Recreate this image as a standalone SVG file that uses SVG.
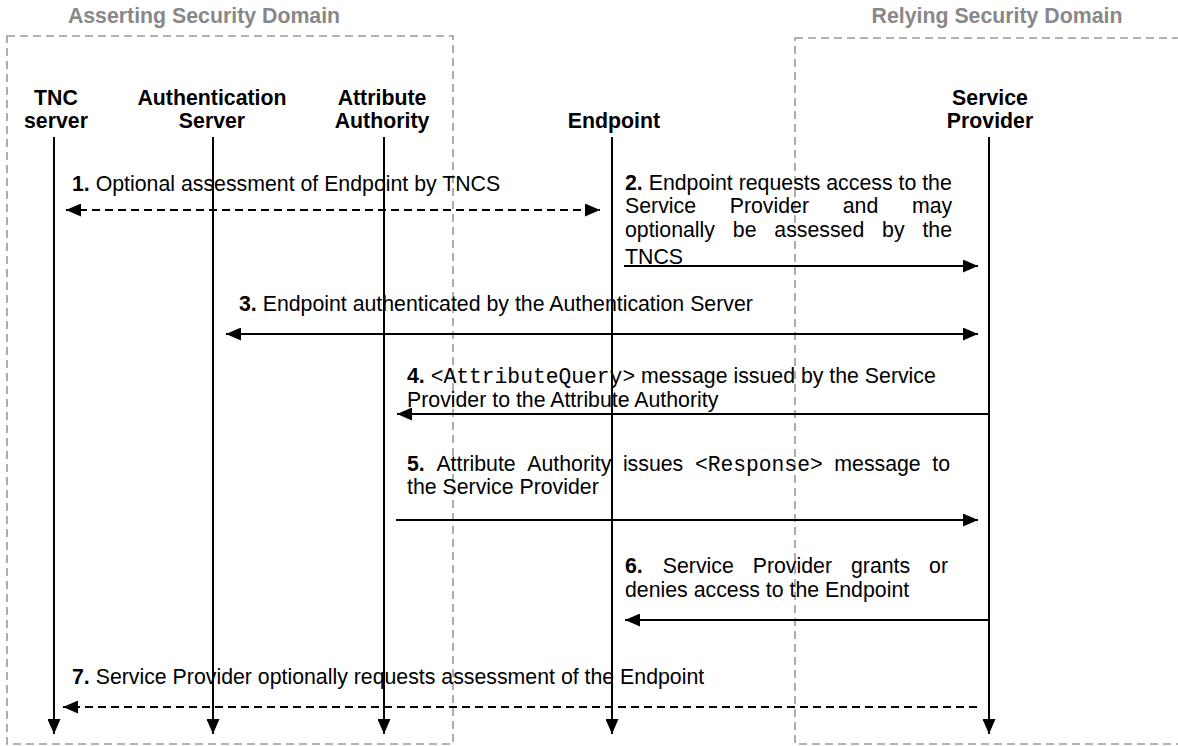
<svg xmlns="http://www.w3.org/2000/svg" width="1178" height="746" viewBox="0 0 1178 746">
<style>
  text { font-family: "Liberation Sans", Arial, sans-serif; font-size: 21.3px; fill: #000; }
  .title { font-weight: bold; fill: #888888; text-anchor: middle; }
  .node { font-weight: bold; text-anchor: middle; }
  .b { font-weight: bold; }
  .mono { font-family: "Liberation Mono", "Courier New", monospace; }
  .domain { fill: none; stroke: #999999; stroke-width: 1.6; stroke-dasharray: 8 5; }
  .life { stroke: #000; stroke-width: 2; fill: none; }
  .msg { stroke: #000; stroke-width: 2; fill: none; }
  .dash { stroke-dasharray: 8 5; }
</style>
<defs>
  <marker id="ah" viewBox="0 0 15 13" refX="15" refY="6.5" markerWidth="15" markerHeight="13" markerUnits="userSpaceOnUse" orient="auto-start-reverse">
    <path d="M0,0 L15,6.5 L0,13 z" fill="#000" stroke="none"/>
  </marker>
</defs>
<rect width="1178" height="746" fill="#fff"/>

<g id="asserting-domain">
  <text class="title" x="204" y="23">Asserting Security Domain</text>
  <rect class="domain" x="7" y="36" width="446" height="708"/>
</g>
<g id="relying-domain">
  <text class="title" x="997" y="23">Relying Security Domain</text>
  <rect class="domain" x="795" y="38" width="420" height="706"/>
</g>

<g id="tnc-server">
  <text class="node" x="56" y="105">TNC</text>
  <text class="node" x="56" y="128">server</text>
  <line class="life" x1="54" y1="137" x2="54" y2="734" marker-end="url(#ah)"/>
</g>
<g id="authentication-server">
  <text class="node" x="212" y="105">Authentication</text>
  <text class="node" x="212" y="128">Server</text>
  <line class="life" x1="213" y1="137" x2="213" y2="734" marker-end="url(#ah)"/>
</g>
<g id="attribute-authority">
  <text class="node" x="382" y="105">Attribute</text>
  <text class="node" x="382" y="128">Authority</text>
  <line class="life" x1="384" y1="137" x2="384" y2="734" marker-end="url(#ah)"/>
</g>
<g id="endpoint">
  <text class="node" x="614" y="128">Endpoint</text>
  <line class="life" x1="612" y1="137" x2="612" y2="734" marker-end="url(#ah)"/>
</g>
<g id="service-provider">
  <text class="node" x="990" y="105">Service</text>
  <text class="node" x="990" y="128">Provider</text>
  <line class="life" x1="989" y1="137" x2="989" y2="734" marker-end="url(#ah)"/>
</g>

<g id="connectors">
  <line class="msg dash" x1="66" y1="210" x2="600" y2="210" marker-start="url(#ah)" marker-end="url(#ah)"/>
  <line class="msg" x1="624" y1="266" x2="978" y2="266" marker-end="url(#ah)"/>
  <line class="msg" x1="226" y1="334" x2="978" y2="334" marker-start="url(#ah)" marker-end="url(#ah)"/>
  <line class="msg" x1="989" y1="414" x2="397" y2="414" marker-end="url(#ah)"/>
  <line class="msg" x1="396" y1="520" x2="978" y2="520" marker-end="url(#ah)"/>
  <line class="msg" x1="989" y1="620" x2="625" y2="620" marker-end="url(#ah)"/>
  <line class="msg dash" x1="977" y1="707" x2="63" y2="707" marker-end="url(#ah)"/>
</g>

<g id="labels">
  <text x="72" y="191"><tspan class="b">1.</tspan> Optional assessment of Endpoint by TNCS</text>

  <text x="625" y="190"><tspan class="b">2.</tspan> Endpoint requests access to the</text>
  <text y="213"><tspan x="625">Service</tspan><tspan x="729.7">Provider</tspan><tspan x="842.7">and</tspan><tspan x="911.9">may</tspan></text>
  <text y="237"><tspan x="625">optionally</tspan><tspan x="732.8">be</tspan><tspan x="774.3">assessed</tspan><tspan x="882.1">by</tspan><tspan x="922.4">the</tspan></text>
  <text x="625" y="264">TNCS</text>

  <text x="239" y="311"><tspan class="b">3.</tspan> Endpoint authenticated by the Authentication Server</text>

  <text x="407" y="383"><tspan class="b">4.</tspan> <tspan class="mono">&lt;AttributeQuery&gt;</tspan> message issued by the Service</text>
  <text x="407" y="407">Provider to the Attribute Authority</text>

  <text y="471"><tspan x="407" class="b">5.</tspan><tspan x="436.4">Attribute</tspan><tspan x="527.3">Authority</tspan><tspan x="622.9">issues</tspan><tspan x="694.9" class="mono">&lt;Response&gt;</tspan><tspan x="834.3">message</tspan><tspan x="932.3">to</tspan></text>
  <text x="407" y="494">the Service Provider</text>

  <text y="573"><tspan x="625" class="b">6.</tspan><tspan x="662.8">Service</tspan><tspan x="752.7">Provider</tspan><tspan x="851">grants</tspan><tspan x="929.1">or</tspan></text>
  <text x="625" y="597">denies access to the Endpoint</text>

  <text x="72" y="684"><tspan class="b">7.</tspan> Service Provider optionally requests assessment of the Endpoint</text>
</g>
</svg>
